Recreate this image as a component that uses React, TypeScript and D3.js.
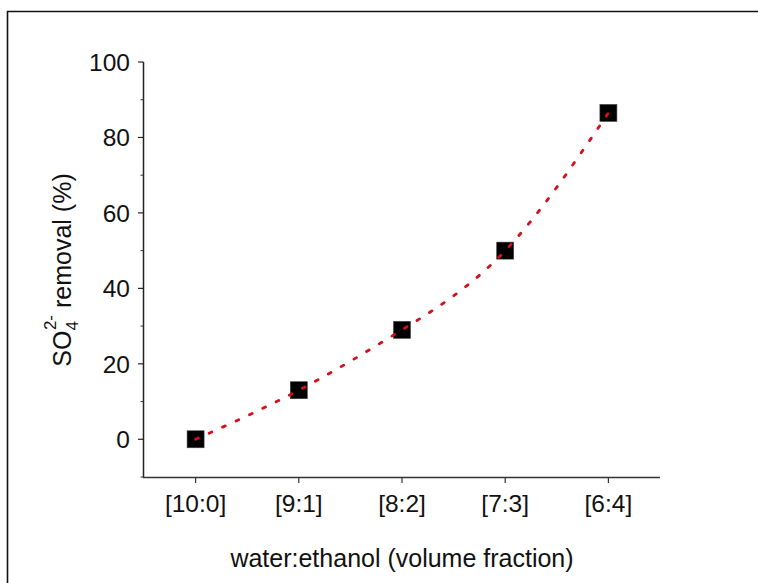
import React, { useEffect, useRef } from 'react';
import * as d3 from 'd3';

const categories = ['[10:0]', '[9:1]', '[8:2]', '[7:3]', '[6:4]'];
const removal = [0, 13, 29, 50, 86.5];
const yTicks = [0, 20, 40, 60, 80, 100];
const yMinorTicks = [-10, 10, 30, 50, 70, 90];

const W = 758;
const H = 583;

const App = () => {
    const svgRef = useRef<SVGSVGElement>(null);

    useEffect(() => {
        const svg = d3.select(svgRef.current);
        svg.selectAll('*').remove();

        const x = d3.scaleLinear().domain([-0.5, 4.5]).range([144, 660]);
        const y = d3.scaleLinear().domain([-10, 100]).range([477, 62]);
        const font = 'Arial, "Liberation Sans", sans-serif';

        // frame around the figure
        svg.append('path')
            .attr('d', `M7.5,${H} V11.5 H${W}`)
            .attr('fill', 'none')
            .attr('stroke', '#111')
            .attr('stroke-width', 1.6);

        const g = svg.append('g').attr('font-family', font);

        // axes lines
        g.append('line')
            .attr('x1', 143.5).attr('x2', 143.5)
            .attr('y1', y(100)).attr('y2', 477.5)
            .attr('stroke', '#222').attr('stroke-width', 1.5);
        g.append('line')
            .attr('x1', 143).attr('x2', 660)
            .attr('y1', 477.5).attr('y2', 477.5)
            .attr('stroke', '#333').attr('stroke-width', 1.5);

        // y ticks
        g.selectAll('.ymaj')
            .data(yTicks)
            .join('line')
            .attr('x1', 138).attr('x2', 143.5)
            .attr('y1', (d) => y(d)).attr('y2', (d) => y(d))
            .attr('stroke', '#222').attr('stroke-width', 1.2);
        g.selectAll('.ymin')
            .data(yMinorTicks)
            .join('line')
            .attr('x1', 140.5).attr('x2', 143.5)
            .attr('y1', (d) => y(d)).attr('y2', (d) => y(d))
            .attr('stroke', '#333').attr('stroke-width', 1);
        g.selectAll('.ylab')
            .data(yTicks)
            .join('text')
            .attr('x', 130)
            .attr('y', (d) => y(d))
            .attr('dy', '0.36em')
            .attr('text-anchor', 'end')
            .attr('font-size', 24.5)
            .attr('fill', '#111')
            .text((d) => d);

        // x ticks
        g.selectAll('.xtick')
            .data(categories)
            .join('line')
            .attr('x1', (d, i) => x(i)).attr('x2', (d, i) => x(i))
            .attr('y1', 477.5).attr('y2', 483)
            .attr('stroke', '#333').attr('stroke-width', 1.2);
        g.selectAll('.xlab')
            .data(categories)
            .join('text')
            .attr('x', (d, i) => x(i))
            .attr('y', 512)
            .attr('text-anchor', 'middle')
            .attr('font-size', 24.5)
            .attr('fill', '#111')
            .text((d) => d);

        // axis titles
        g.append('text')
            .attr('x', 402)
            .attr('y', 567)
            .attr('text-anchor', 'middle')
            .attr('font-size', 25)
            .attr('fill', '#111')
            .text('water:ethanol (volume fraction)');

        const yt = g.append('text')
            .attr('transform', 'translate(71,270) rotate(-90)')
            .attr('text-anchor', 'middle')
            .attr('font-size', 25)
            .attr('fill', '#111');
        yt.append('tspan').text('SO');
        yt.append('tspan').attr('dy', 7).attr('font-size', 17).text('4');
        yt.append('tspan').attr('dx', -9).attr('dy', -22).attr('font-size', 17).text('2-');
        yt.append('tspan').attr('dy', 15).text(' removal (%)');

        // markers
        g.selectAll('.pt')
            .data(removal)
            .join('rect')
            .attr('x', (d, i) => x(i) - 8.5)
            .attr('y', (d) => y(d) - 8.5)
            .attr('width', 17)
            .attr('height', 17)
            .attr('fill', '#000')
            .attr('stroke', '#444')
            .attr('stroke-width', 0.6);

        // fitted curve (dotted red)
        const line = d3.line<number>()
            .x((d, i) => x(i))
            .y((d) => y(d))
            .curve(d3.curveNatural);
        g.append('path')
            .attr('d', line(removal))
            .attr('fill', 'none')
            .attr('stroke', '#d4101c')
            .attr('stroke-width', 2.8)
            .attr('stroke-linecap', 'round')
            .attr('stroke-dasharray', '3 11.8');
    }, []);

    return (
        <div style={{ position: 'absolute', left: 0, top: 0 }}>
            <svg ref={svgRef} width={W} height={H} style={{ display: 'block', background: '#fff' }} />
        </div>
    );
};

export default App;
